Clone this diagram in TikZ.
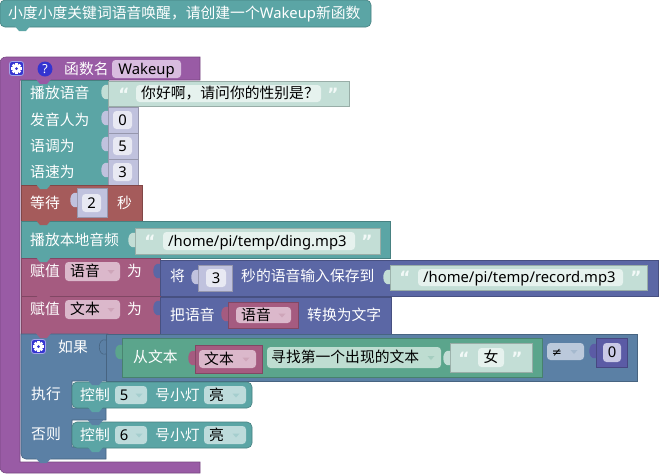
\documentclass[tikz,border=0pt]{standalone}
\usepackage{fontspec}
\setmainfont{Noto Sans}
\newfontfamily\cjk{Noto Sans CJK SC}
\newfontfamily\djv{DejaVu Sans}
\definecolor{tealA}{HTML}{5BA5A5}
\definecolor{tealL}{HTML}{C3DED6}
\definecolor{tealF}{HTML}{BDDBDB}
\definecolor{strF}{HTML}{E6F2EE}
\definecolor{lav}{HTML}{C0C2DE}
\definecolor{lavF}{HTML}{E8E9F3}
\definecolor{purp}{HTML}{995BA5}
\definecolor{purpF}{HTML}{D8BCDF}
\definecolor{redA}{HTML}{A55B5B}
\definecolor{pinkA}{HTML}{A55B80}
\definecolor{pinkF}{HTML}{DBB8CB}
\definecolor{blueA}{HTML}{5B67A5}
\definecolor{steel}{HTML}{5B80A5}
\definecolor{greenA}{HTML}{5BA58C}
\definecolor{greenF}{HTML}{BEDDD1}
\definecolor{neqF}{HTML}{BBC9DB}
\definecolor{dlav}{HTML}{5B5BA5}
\definecolor{dlavF}{HTML}{C9C9E6}
\definecolor{iconb}{HTML}{3434D0}
\definecolor{quoteC}{HTML}{F2F9F7}
\newcommand{\fs}{\fontsize{14.8}{17}\selectfont}
\newcommand{\blk}[5]{\filldraw[fill=#5, draw=#5!78!black, line width=0.6pt] (#1,#2) rectangle (#3,#4);}
\newcommand{\vtab}[3]{\fill[#3] (#1,{#2+4}) .. controls ({#1-9},{#2+1}) and ({#1-9},{#2+21}) .. (#1,{#2+18}) -- cycle;}
\newcommand{\notch}[3]{\fill[#3] (#1,{#2-0.8}) -- ({#1+4},{#2+4}) -- ({#1+11},{#2+4}) -- ({#1+15},{#2-0.8}) -- cycle;}
\newcommand{\fld}[5]{\fill[#5, rounded corners=3.5pt] (#1,#2) rectangle (#3,#4);}
\newcommand{\darr}[3]{\fill[#3] ({#1-3.5},{#2-1.5}) -- ({#1+3.5},{#2-1.5}) -- (#1,{#2+2.5}) -- cycle;}
\newcommand{\gearicon}[2]{%
  \filldraw[fill=iconb, draw=iconb!45!white, line width=0.8pt, rounded corners=2.5pt] ({#1-7},{#2-7}) rectangle ({#1+7},{#2+7});
  \fill[white] (#1,#2) circle (3.6);
  \foreach \a in {0,45,...,315} \fill[white, rotate around={\a:(#1,#2)}] ({#1-1.3},{#2-5.4}) rectangle ({#1+1.3},{#2-2});
  \fill[iconb] (#1,#2) circle (1.5);}
\tikzset{
  wt/.style={anchor=west, inner sep=0pt, text=white, font=\cjk\fs, text height=11.5pt, text depth=1.5pt},
  bt/.style={wt, text=black},
  ct/.style={anchor=center, inner sep=0pt, text=black, font=\cjk\fs, text height=11.5pt, text depth=1.5pt},
  qt/.style={anchor=center, inner sep=0pt, text=quoteC, font=\djv\bfseries\fontsize{17}{18}\selectfont, text height=10pt, text depth=0pt},
}
\begin{document}
\begin{tikzpicture}[x=1pt,y=-1pt]
\useasboundingbox (0,0) rectangle (660,475);
\fill[white] (0,0) rectangle (660,475);

% comment block
\filldraw[fill=tealA, draw=tealA!78!black, line width=0.6pt, rounded corners=5pt] (0,0) rectangle (371,27);
\notch{15}{27}{tealA}
\node[wt] (cmt) at (8,13.5) {小度小度关键词语音唤醒，请创建一个{\rmfamily Wakeup}新函数};

% function block
\filldraw[fill=purp, draw=purp!78!black, line width=0.6pt]
  (200,57) -- (200,80) -- (20,80) -- (20,462) -- (200,462) -- (200,473) [rounded corners=6pt] -- (0,473) -- (0,57) [sharp corners] -- cycle;
\gearicon{16.5}{68.5}
\fill[iconb] (45,69) circle (7.5);
\node[anchor=center, inner sep=0pt, text=white, font=\rmfamily\bfseries\fontsize{12.5}{13}\selectfont] (qm) at (45,69) {?};
\node[wt] (fname) at (64,69) {函数名};
\fld{112}{60}{181}{78}{purpF}
\node[ct, font=\rmfamily\fs] (wk) at (146.5,69) {Wakeup};

% 播放语音
\blk{21}{80}{108}{185}{tealA}
\notch{36}{80}{purp}
\node[wt] (l1) at (30,93.5) {播放语音};
\node[wt] (l2) at (30,120) {发音人为};
\node[wt] (l3) at (30,146) {语调为};
\node[wt] (l4) at (30,172) {语速为};
\blk{108}{81}{349}{106}{tealL}
\vtab{108}{81}{tealL}
\node[qt] (q1) at (124,95) {“};
\fld{136}{85}{321}{102}{strF}
\node[bt] (s1) at (141,93.5) {你好啊，请问你的性别是？};
\node[qt] (q2) at (333,95) {”};
\foreach \yy/\vv/\nm in {107/0/na,133/5/nb,159/3/nc}{
  \blk{108}{\yy}{138}{\yy+26}{lav}
  \vtab{108}{\yy}{lav}
  \fld{113}{\yy+4}{132}{\yy+22}{lavF}
  \node[ct, font=\rmfamily\fs] (\nm) at (122.5,\yy+13) {\vv};
}

% 等待
\blk{21}{185}{142}{221}{redA}
\notch{36}{185}{tealA}
\node[wt] (w1) at (30,203) {等待};
\blk{77}{188}{107}{217}{lav}
\vtab{77}{189}{lav}
\fld{82}{194}{101}{212}{lavF}
\node[ct, font=\rmfamily\fs] (w2) at (91.5,203) {2};
\node[wt] (w3) at (117,203) {秒};

% 播放本地音频
\blk{21}{221}{390}{258}{tealA}
\notch{36}{221}{redA}
\node[wt] (p1) at (30,240) {播放本地音频};
\blk{135}{228}{380}{254}{tealL}
\vtab{135}{229}{tealL}
\node[qt] (q3) at (150,242.5) {“};
\fld{163}{232}{355}{250}{strF}
\node[bt, font=\rmfamily\fs] (p2) at (168,241) {/home/pi/temp/ding.mp3};
\node[qt] (q4) at (367,242.5) {”};

% 赋值 语音
\blk{21}{258}{160}{296}{pinkA}
\notch{36}{258}{tealA}
\node[wt] (a1) at (30,271) {赋值};
\fld{65}{262}{120}{281}{pinkF}
\node[bt] (a2) at (70,271.5) {语音};
\darr{111}{271.5}{pinkA!55!white}
\node[wt] (a3) at (127,271) {为};
\blk{160}{260}{658}{296}{blueA}
\vtab{160}{260}{blueA}
\node[wt] (b1) at (170,276) {将};
\blk{198}{265}{232}{291}{lav}
\vtab{198}{266}{lav}
\fld{206}{269}{226}{287}{lavF}
\node[ct, font=\rmfamily\fs] (b2) at (216,278) {3};
\node[wt] (b3) at (241,276) {秒的语音输入保存到};
\blk{390}{265}{647}{290}{tealL}
\vtab{390}{266}{tealL}
\node[qt] (q5) at (405,278.5) {“};
\fld{418}{269}{623}{286}{strF}
\node[bt, font=\rmfamily\fs] (b4) at (423,277.5) {/home/pi/temp/record.mp3};
\node[qt] (q6) at (636,278.5) {”};

% 赋值 文本
\blk{21}{296}{160}{334}{pinkA}
\notch{36}{296}{pinkA}
\node[wt] (c1) at (30,309) {赋值};
\fld{65}{300}{120}{319}{pinkF}
\node[bt] (c2) at (70,309.5) {文本};
\darr{111}{309.5}{pinkA!55!white}
\node[wt] (c3) at (127,309) {为};
\blk{160}{297}{391}{334}{blueA}
\vtab{160}{297}{blueA}
\node[wt] (d1) at (170,315) {把语音};
\blk{228}{302}{298}{328}{pinkA}
\vtab{228}{303}{pinkA}
\fld{236}{307}{291}{323}{pinkF}
\node[bt] (d2) at (241,315) {语音};
\darr{282}{315}{pinkA!55!white}
\node[wt] (d3) at (307,315) {转换为文字};

% 如果 block
\filldraw[fill=steel, draw=steel!78!black, line width=0.6pt]
  (21,334) -- (108,334) -- (108,381) -- (72,381) -- (72,408) -- (106,408) -- (106,420) -- (72,420) -- (72,447) -- (106,447) -- (106,459) [rounded corners=5pt] -- (21,459) [sharp corners] -- cycle;
\notch{36}{334}{pinkA}
\gearicon{38.5}{346.5}
\node[wt] (e1) at (58,347) {如果};
\node[wt] (e2) at (31,394) {执行};
\node[wt] (e3) at (31,434) {否则};
% compare block
\blk{106}{334}{637}{381}{steel}
\filldraw[fill=steel, draw=steel!78!black, line width=0.6pt] (106,{336+4}) .. controls ({106-9},{336+1}) and ({106-9},{336+21}) .. (106,{336+18});
% green block
\blk{122}{338}{542}{377}{greenA}
\vtab{122}{341}{greenA}
\node[wt] (f1) at (133,357) {从文本};
\blk{195}{345}{262}{373}{pinkA}
\vtab{195}{347}{pinkA}
\fld{199}{350}{256}{368}{pinkF}
\node[bt] (f2) at (204,359) {文本};
\darr{246}{359}{pinkA!55!white}
\fld{267}{347}{441}{368}{greenF}
\node[bt] (f3) at (271,357.5) {寻找第一个出现的文本};
\darr{431}{357.5}{greenA!55!white}
\blk{450}{343}{532}{372}{tealL}
\vtab{450}{347}{tealL}
\node[qt] (q7) at (464,359) {“};
\fld{478}{348}{504}{367}{strF}
\node[ct] (f4) at (491,357.5) {女};
\node[qt] (q8) at (517,359) {”};
% neq + 0
\fld{547}{343}{584}{360}{neqF}
\node[ct, font=\djv\fontsize{12}{14}\selectfont] (g1) at (557,351.5) {≠};
\darr{574}{351.5}{steel!55!white}
\blk{596}{338}{627}{367}{dlav}
\vtab{596}{340}{dlav}
\fld{603}{343}{621}{362}{dlavF}
\node[ct, font=\rmfamily\fs] (g2) at (612,352.5) {0};

% 控制 blocks
\foreach \yy/\vv/\nm in {382/5/h,422/6/k}{
  \filldraw[fill=tealA, draw=tealA!78!black, line width=0.6pt, rounded corners=5pt] (72,\yy) rectangle (252,\yy+26);
  \notch{88}{\yy+26}{tealA}
  \notch{88}{\yy-1}{steel}
  \node[wt] (\nm1) at (80,\yy+13) {控制};
  \fld{115}{\yy+4}{147}{\yy+22}{tealF}
  \node[ct, font=\rmfamily\fs] (\nm2) at (124,\yy+13) {\vv};
  \darr{139}{\yy+13}{tealA!55!white}
  \node[wt] (\nm3) at (155,\yy+13) {号小灯};
  \fld{204}{\yy+4}{246}{\yy+22}{tealF}
  \node[bt] (\nm4) at (209,\yy+13) {亮};
  \darr{236}{\yy+13}{tealA!55!white}
}
\notch{36}{459}{steel}
\end{tikzpicture}
\end{document}
